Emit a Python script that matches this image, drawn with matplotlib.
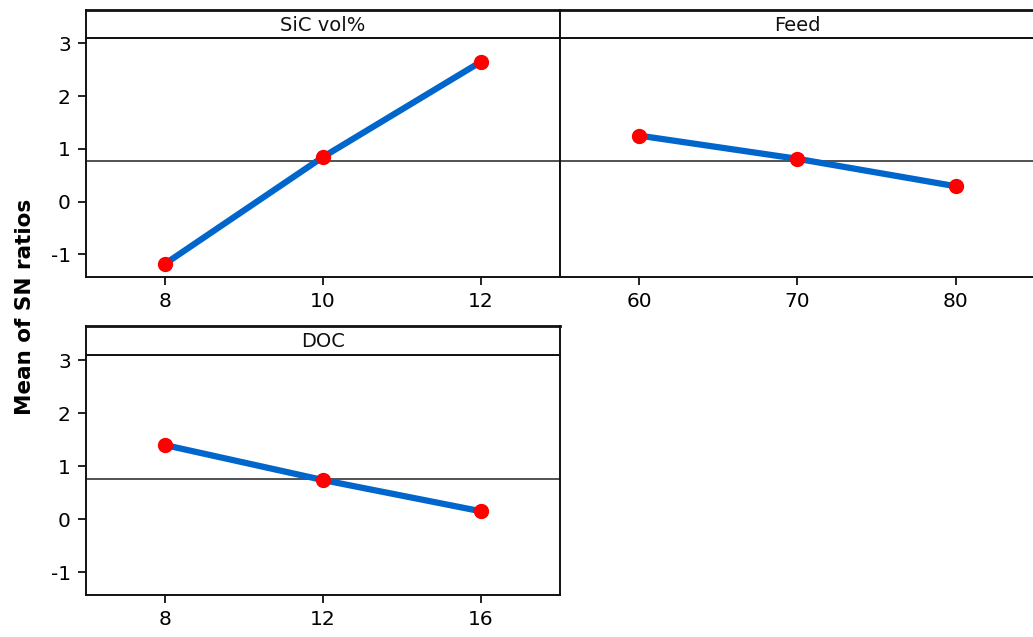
import matplotlib
matplotlib.use("Agg")
import matplotlib.pyplot as plt
import numpy as np

plt.rcParams['font.family'] = ['DejaVu Sans']
plt.rcParams['axes.unicode_minus'] = False

factors = ["SiC vol%", "Feed", "DOC"]
sic_levels = [8, 10, 12]
sic_means = [-1.18, 0.845, 2.65]
feed_levels = [60, 70, 80]
feed_means = [1.25, 0.81, 0.29]
doc_levels = [8, 12, 16]
doc_means = [1.40, 0.74, 0.15]
grand_mean = 0.765
ylabel = "Mean of SN ratios"
yticks = [-1, 0, 1, 2, 3]

W, H = 1033, 637
fig = plt.figure(figsize=(W / 100, H / 100), dpi=100)

def fx(px):
    return px / W

def fy(py):
    return 1 - py / H

panels = [
    (86, 560, 10, 38, 277, sic_levels, sic_means, factors[0], (7, 13), True),
    (560, 1035, 10, 38, 277, feed_levels, feed_means, factors[1], (55, 85), False),
    (86, 560, 326, 355, 595, doc_levels, doc_means, factors[2], (6, 18), True),
]

line_color = "#0066CC"
for (l, r, st, dt, db, lv, mv, title, xlim, showy) in panels:
    ax = fig.add_axes([fx(l), fy(db), fx(r - l), fy(dt) - fy(db)])
    ax.plot(lv, mv, color=line_color, lw=4.5, zorder=3, solid_capstyle='butt')
    ax.plot(lv, mv, 'o', color='#FF0000', ms=10, mec='#FF0000', zorder=4)
    ax.axhline(grand_mean, color='#333333', lw=1.2, zorder=2)
    ax.set_xlim(*xlim)
    ax.set_ylim(-1.43, 3.10)
    ax.set_xticks(lv)
    ax.set_xticklabels([str(v) for v in lv])
    ax.set_yticks(yticks)
    ax.tick_params(direction='out', length=6, width=1.4, labelsize=14.5, color='#222222', pad=5)
    if not showy:
        ax.tick_params(axis='y', left=False, labelleft=False)
    for s in ax.spines.values():
        s.set_linewidth(1.4)
        s.set_color('#111111')
    if r > W:
        ax.spines['right'].set_visible(False)
    sax = fig.add_axes([fx(l), fy(dt), fx(r - l), fy(st) - fy(dt)])
    sax.set_xticks([])
    sax.set_yticks([])
    for s in sax.spines.values():
        s.set_linewidth(1.4)
        s.set_color('#111111')
    sax.spines['top'].set_linewidth(2.0)
    if r > W:
        sax.spines['right'].set_visible(False)
    sax.text(0.5, 0.45, title, ha='center', va='center', fontsize=14, transform=sax.transAxes, color='#111111')

fig.text(fx(25), fy(307), ylabel, rotation=90, ha='center', va='center', fontsize=15.5, fontweight='bold')

fig.savefig("out.png", dpi=100)
